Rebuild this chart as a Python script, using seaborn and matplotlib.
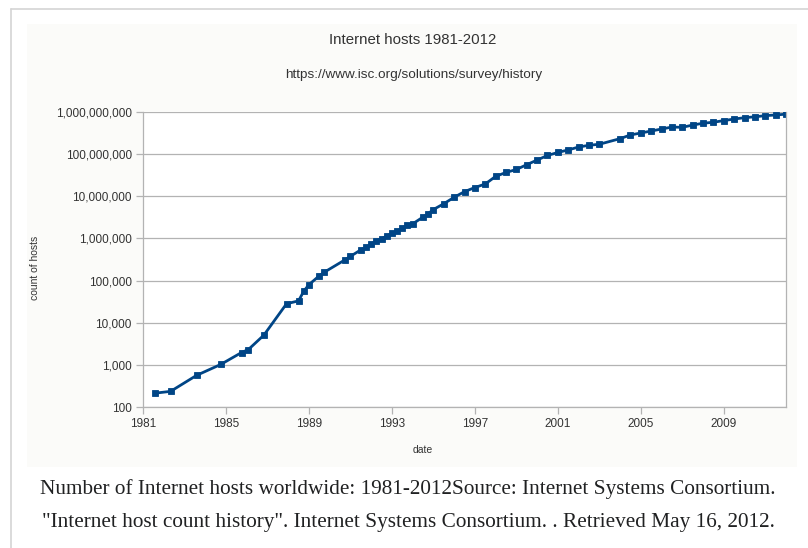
import numpy as np
import pandas as pd
import matplotlib
matplotlib.use("Agg")
import matplotlib.pyplot as plt
import seaborn as sns
from matplotlib.ticker import FuncFormatter, FixedLocator
from matplotlib.patches import Rectangle
from matplotlib.lines import Line2D

# ── DATA (ISC host survey) ───────────────────────────────
dates = [1981.58, 1982.33, 1983.58, 1984.75, 1985.75, 1986.08, 1986.83,
         1987.92, 1988.50, 1988.75, 1989.00, 1989.50, 1989.75, 1990.75,
         1991.00, 1991.50, 1991.75, 1992.00, 1992.25, 1992.50, 1992.75,
         1993.00, 1993.25, 1993.50, 1993.75, 1994.00, 1994.50, 1994.75,
         1995.00, 1995.50, 1996.00, 1996.50, 1997.00, 1997.50, 1998.00,
         1998.50, 1999.00, 1999.50, 2000.00, 2000.50, 2001.00, 2001.50,
         2002.00, 2002.50, 2003.00, 2004.00, 2004.50, 2005.00, 2005.50,
         2006.00, 2006.50, 2007.00, 2007.50, 2008.00, 2008.50, 2009.00,
         2009.50, 2010.00, 2010.50, 2011.00, 2011.50, 2012.00]
hosts = [213, 235, 562, 1024, 1961, 2308, 5089,
         28174, 33000, 56000, 80000, 130000, 159000, 313000,
         376000, 535000, 617000, 727000, 890000, 992000, 1136000,
         1313000, 1486000, 1776000, 2056000, 2217000, 3212000, 3864000,
         4852000, 6642000, 9472000, 12881000, 16146000, 19540000, 29670000,
         36739000, 43230000, 56218000, 72398092, 93047785, 109574429, 125888197,
         147344723, 162128493, 171638297, 233101481, 285139107, 317646084, 353284187,
         394991609, 439286364, 433193199, 489774269, 541677360, 570937778, 625226456,
         681064561, 732740444, 768913036, 818374269, 849869781, 888239420]
x_ticks = [1981, 1985, 1989, 1993, 1997, 2001, 2005, 2009]
y_ticks = [100, 1000, 10000, 100000, 1000000, 10000000, 100000000, 1000000000]

df = pd.DataFrame({"date": dates, "hosts": hosts})

# ── STYLE ────────────────────────────────────────────────
sns.set_theme(style="white")
plt.rcParams["font.family"] = ["Liberation Sans", "DejaVu Sans"]

W, H = 808, 548
fig = plt.figure(figsize=(W / 100, H / 100), dpi=100)
fig.patch.set_facecolor("white")

# outer frame + chart area
fig.add_artist(Line2D([11 / W, 1], [1 - 9 / H, 1 - 9 / H], color="#d4d4d4", lw=1.2, zorder=-2))
fig.add_artist(Line2D([11 / W, 11 / W], [0, 1 - 9 / H], color="#d4d4d4", lw=1.2, zorder=-2))
fig.add_artist(Rectangle((27 / W, 1 - 467 / H), (797 - 27) / W, (467 - 24) / H,
                         transform=fig.transFigure, facecolor="#fbfbf9",
                         edgecolor="none", zorder=-1))

ax = fig.add_axes([143 / W, 1 - 407 / H, (786 - 143) / W, (407 - 112) / H], zorder=2)
ax.set_facecolor("white")

sns.lineplot(data=df, x="date", y="hosts", ax=ax, color="#004586",
             linewidth=2.0, marker="s", markersize=5,
             markeredgecolor="#004586", markeredgewidth=0.6)

ax.set_yscale("log")
ax.set_xlim(1981, 2012)
ax.set_ylim(100, 1e9)
ax.xaxis.set_major_locator(FixedLocator(x_ticks))
ax.yaxis.set_major_locator(FixedLocator(y_ticks))
ax.yaxis.set_minor_locator(FixedLocator([]))
ax.yaxis.set_major_formatter(FuncFormatter(lambda v, p: f"{int(round(v)):,}"))
ax.xaxis.set_major_formatter(FuncFormatter(lambda v, p: f"{int(v)}"))

ax.grid(axis="y", color="#b3b3b3", linewidth=0.9)
ax.grid(axis="x", visible=False)
for side in ["left", "right", "bottom"]:
    ax.spines[side].set_visible(True)
    ax.spines[side].set_color("#b3b3b3")
    ax.spines[side].set_linewidth(0.9)
ax.spines["top"].set_visible(False)
ax.tick_params(axis="both", which="major", length=5, width=0.9, color="#b3b3b3",
               labelsize=8.5, labelcolor="#333333", pad=3, direction="out",
               left=True, bottom=True)
ax.set_xlabel("")
ax.set_ylabel("")

# texts
fig.text(413 / W, 1 - 40 / H, "Internet hosts 1981-2012", ha="center", va="center",
         fontsize=10.8, color="#333333")
fig.text(414 / W, 1 - 75 / H, "https://www.isc.org/solutions/survey/history",
         ha="center", va="center", fontsize=9.7, color="#333333")
fig.text(423 / W, 1 - 450 / H, "date", ha="center", va="center",
         fontsize=7.5, color="#333333")
fig.text(35 / W, 1 - 268 / H, "count of hosts", ha="center", va="center",
         rotation=90, fontsize=7.5, color="#333333")

fig.text(408 / W, 1 - 489 / H,
         "Number of Internet hosts worldwide: 1981-2012Source: Internet Systems Consortium.",
         ha="center", va="center", fontsize=15.3, color="#202122", family="Liberation Serif")
fig.text(408 / W, 1 - 523 / H,
         "\"Internet host count history\". Internet Systems Consortium. . Retrieved May 16, 2012.",
         ha="center", va="center", fontsize=15.3, color="#202122", family="Liberation Serif")

fig.savefig("out.png", dpi=100, facecolor=fig.get_facecolor())
